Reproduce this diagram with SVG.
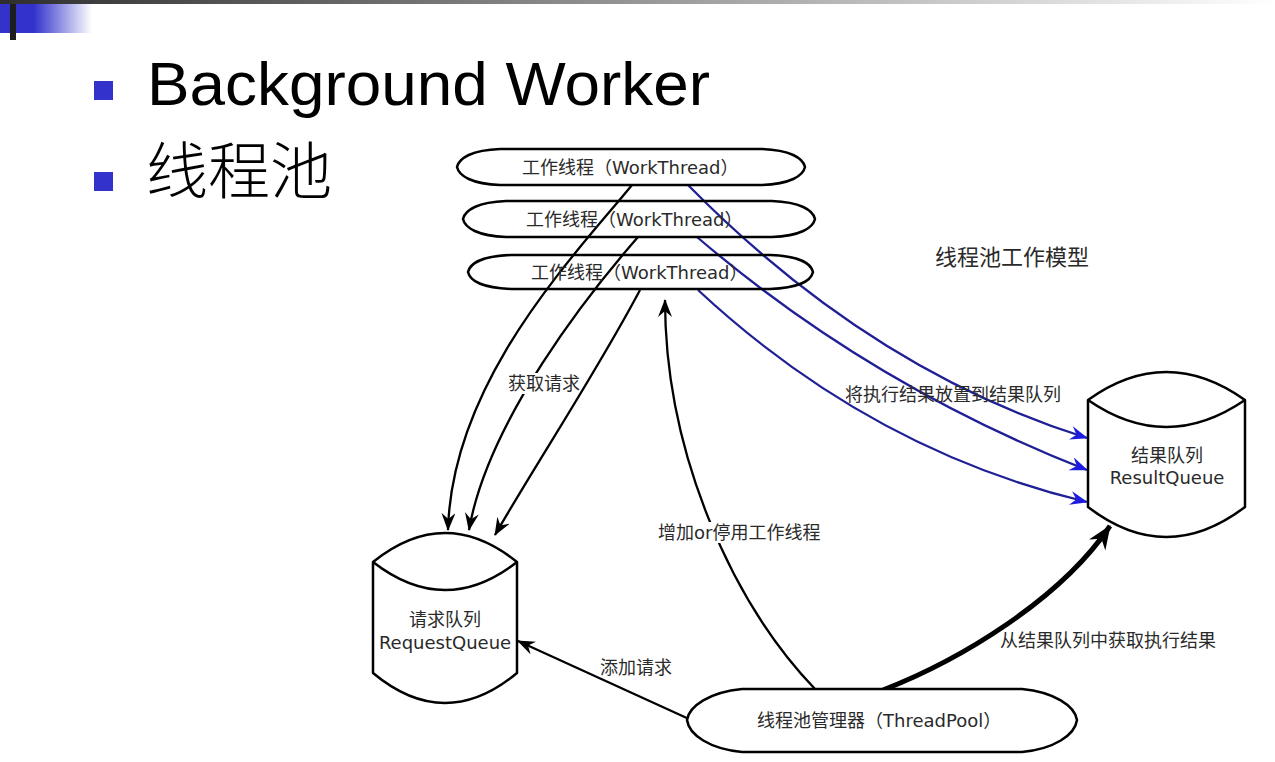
<svg xmlns="http://www.w3.org/2000/svg" width="1275" height="762" viewBox="0 0 1275 762">
  <defs>
    <linearGradient id="topbar" x1="0" y1="0" x2="1" y2="0">
      <stop offset="0" stop-color="#2e2e2e"/>
      <stop offset="1" stop-color="#ffffff"/>
    </linearGradient>
    <linearGradient id="bluefade" x1="0" y1="0" x2="1" y2="0">
      <stop offset="0" stop-color="#3333cc"/>
      <stop offset="1" stop-color="#3333cc" stop-opacity="0"/>
    </linearGradient>
    <marker id="ahBlack" viewBox="0 0 18 14" refX="17" refY="7" markerWidth="18" markerHeight="14" orient="auto" markerUnits="userSpaceOnUse">
      <path d="M0,0 L18,7 L0,14 L6,7 Z" fill="#000"/>
    </marker>
    <marker id="ahBlue" viewBox="0 0 18 14" refX="17" refY="7" markerWidth="18" markerHeight="14" orient="auto" markerUnits="userSpaceOnUse">
      <path d="M0,0 L18,7 L0,14 L6,7 Z" fill="#1c1ce0"/>
    </marker>
    <marker id="ahBig" viewBox="0 0 22 18" refX="21" refY="9" markerWidth="24" markerHeight="20" orient="auto" markerUnits="userSpaceOnUse">
      <path d="M0,0 L22,9 L0,18 L7,9 Z" fill="#000"/>
    </marker>
  </defs>
  <style>
    .shape { fill: #fff; stroke: #000; stroke-width: 2.5; stroke-linejoin: round; }
    .open { fill: none; }
    .lbl { font-family: "DejaVu Sans", "Noto Sans CJK SC", sans-serif; font-size: 18px; fill: #2a2a2a; }
    .mid { text-anchor: middle; }
    .conn { fill: none; stroke: #000; stroke-width: 2.3; }
    .thick { stroke-width: 5; }
    .blue { fill: none; stroke: #1f1f96; stroke-width: 2.3; }
    .bg { fill: #fff; }
  </style>

  <rect width="1275" height="762" fill="#fff"/>

  <!-- slide header -->
  <rect x="0" y="0" width="1275" height="4" fill="url(#topbar)"/>
  <rect x="0" y="4" width="34" height="29" fill="#3333cc"/>
  <rect x="34" y="4" width="58" height="29" fill="url(#bluefade)"/>
  <rect x="10" y="4" width="6" height="36" fill="#1e1e1e"/>

  <!-- bullets -->
  <rect x="94" y="81" width="19" height="19" fill="#3333cc"/>
  <rect x="94" y="172" width="19" height="19" fill="#3333cc"/>
  <text x="147" y="105" font-family="Liberation Sans, Arial, sans-serif" font-size="62" textLength="563" lengthAdjust="spacingAndGlyphs" fill="#000">Background Worker</text>
  <text x="146" y="194" font-family="Noto Sans CJK SC, sans-serif" font-size="62" font-weight="300" fill="#000">线程池</text>

  <!-- connectors -->
  <g id="connectors">
    <!-- workers fetch requests -->
    <path class="conn" d="M632,185 C575,255 452,380 448,530" marker-end="url(#ahBlack)"/>
    <path class="conn" d="M638,237 C590,292 488,420 469,530" marker-end="url(#ahBlack)"/>
    <path class="conn" d="M640,290 C595,375 535,465 495,535" marker-end="url(#ahBlack)"/>
    <!-- workers put results -->
    <path class="blue" d="M688,185 Q870,370 1087,438" marker-end="url(#ahBlue)"/>
    <path class="blue" d="M697,237 Q870,385 1087,470" marker-end="url(#ahBlue)"/>
    <path class="blue" d="M698,290 Q870,450 1087,502" marker-end="url(#ahBlue)"/>
    <!-- pool manages workers -->
    <path class="conn" d="M815,689 C730,600 665,450 665,300" marker-end="url(#ahBlack)"/>
    <!-- pool adds requests -->
    <path class="conn" d="M689,719 L518,641" marker-end="url(#ahBlack)"/>
    <!-- pool collects results -->
    <path class="conn thick" d="M883,690 C960,660 1060,600 1110,526" marker-end="url(#ahBig)"/>

    <rect class="bg" x="506" y="373" width="72" height="21"/>
    <text class="lbl" x="508" y="390">获取请求</text>
    <text class="lbl" x="845" y="401">将执行结果放置到结果队列</text>
    <rect class="bg" x="656" y="522" width="168" height="21"/>
    <text class="lbl" x="658" y="539">增加or停用工作线程</text>
    <text class="lbl" x="600" y="674">添加请求</text>
    <text class="lbl" x="1000" y="647">从结果队列中获取执行结果</text>
  </g>

  <!-- worker threads -->
  <g id="worker1">
    <path class="shape open" d="M457,167 C459,158 472,150 500,149 L762,149 C790,150 803,158 805,167 C803,176 790,184 762,185 L500,185 C472,184 459,176 457,167 Z"/>
    <text class="lbl" x="522" y="174">工作线程（WorkThread）</text>
  </g>
  <g id="worker2">
    <path class="shape open" d="M463,219 C465,210 478,202 506,201 L772,201 C800,202 813,210 815,219 C813,228 800,236 772,237 L506,237 C478,236 465,228 463,219 Z"/>
    <text class="lbl" x="526" y="226">工作线程（WorkThread）</text>
  </g>
  <g id="worker3">
    <path class="shape open" d="M468,272 C470,263 483,256 511,255 L770,255 C798,256 811,263 813,272 C811,281 798,288 770,289 L511,289 C483,288 470,281 468,272 Z"/>
    <text class="lbl" x="531" y="279">工作线程（WorkThread）</text>
  </g>

  <!-- queues -->
  <g id="requestQueue">
    <path class="shape" d="M373,562 Q445,504 517,562 L517,673 Q445,733 373,673 Z"/>
    <path class="shape open" d="M373,562 Q445,618 517,562"/>
    <text class="lbl mid" x="445" y="626">请求队列</text>
    <text class="lbl mid" x="445" y="649">RequestQueue</text>
  </g>
  <g id="resultQueue">
    <path class="shape" d="M1088,400 Q1166,344 1245,400 L1245,507 Q1166,567 1088,507 Z"/>
    <path class="shape open" d="M1088,400 Q1166,454 1245,400"/>
    <text class="lbl mid" x="1167" y="462">结果队列</text>
    <text class="lbl mid" x="1167" y="484">ResultQueue</text>
  </g>

  <!-- pool manager -->
  <g id="threadPool">
    <path class="shape" d="M687,720 C689,706 710,692 742,689 L1022,689 C1054,692 1075,706 1077,720 C1075,735 1054,749 1022,752 L742,752 C710,749 689,735 687,720 Z"/>
    <text class="lbl" x="757" y="727">线程池管理器（ThreadPool）</text>
  </g>

  <text class="lbl" x="935" y="265" style="font-size:22px">线程池工作模型</text>
</svg>
